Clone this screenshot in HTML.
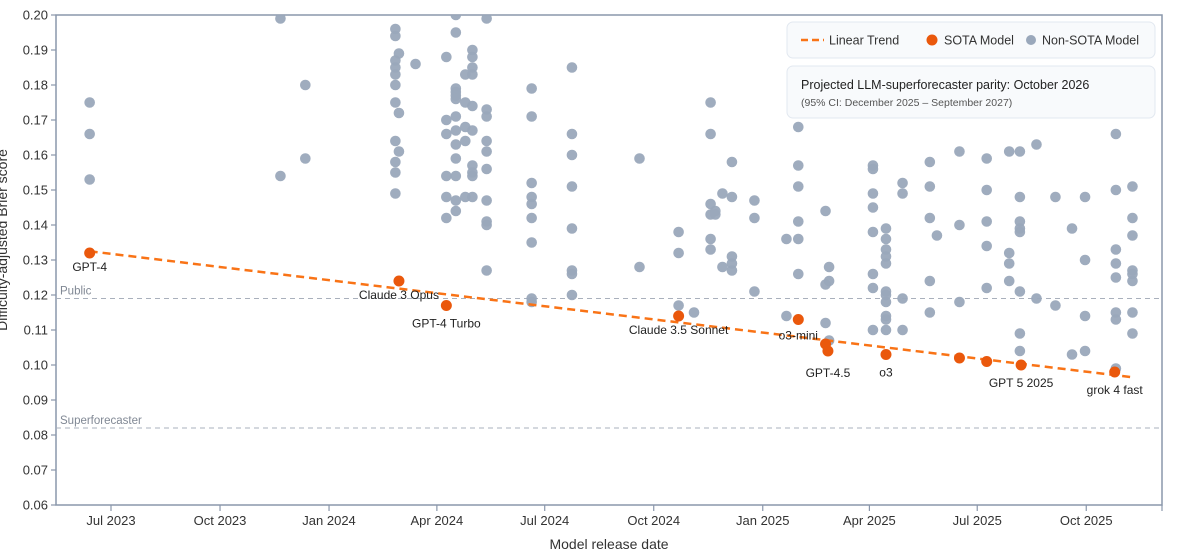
<!DOCTYPE html>
<html><head><meta charset="utf-8"><style>
body{margin:0;background:#fff;font-family:"Liberation Sans",sans-serif;}
svg text{font-family:"Liberation Sans",sans-serif;}
</style></head><body>
<svg id="chart" width="1183" height="553" viewBox="0 0 1183 553" xmlns="http://www.w3.org/2000/svg">
<defs><clipPath id="plotclip"><rect x="56" y="15" width="1106" height="490"/></clipPath></defs>
<rect x="56" y="15" width="1106" height="490" fill="#fff" stroke="#8a97ab" stroke-width="1.5"/>
<g id="grid"></g>
<g id="marks" clip-path="url(#plotclip)"></g>
<g id="axes"></g>
<text x="609" y="549" text-anchor="middle" font-size="14" fill="#333">Model release date</text>
<text transform="translate(7,240) rotate(-90)" text-anchor="middle" font-size="14" fill="#333">Difficulty-adjusted Brier score</text>
<g>
<rect x="787" y="22" width="368" height="36" rx="6" fill="#f8fafc" stroke="#e2e8f0"/>
<line x1="801" y1="40" x2="824" y2="40" stroke="#f97316" stroke-width="2.5" stroke-dasharray="7,4"/>
<text x="829" y="44.5" font-size="12.5" fill="#333">Linear Trend</text>
<circle cx="932" cy="40" r="5.5" fill="#ea580c"/>
<text x="944" y="44.5" font-size="12.5" fill="#333">SOTA Model</text>
<circle cx="1031" cy="40" r="5" fill="#9aa8bb"/>
<text x="1042" y="44.5" font-size="12.5" fill="#333">Non-SOTA Model</text>
<rect x="787" y="66" width="368" height="52" rx="6" fill="#f8fafc" stroke="#e2e8f0"/>
<text x="801" y="89" font-size="12.5" fill="#222">Projected LLM-superforecaster parity: October 2026</text>
<text x="801" y="106" font-size="10.5" fill="#555">(95% CI: December 2025 – September 2027)</text>
</g>
</svg>
<script>
// release dates as days since 2023-07-01
const tickLabels=["Jul 2023","Oct 2023","Jan 2024","Apr 2024","Jul 2024","Oct 2024","Jan 2025","Apr 2025","Jul 2025","Oct 2025"];
const tickDays=[0,92,184,275,366,458,550,640,731,823];
const yTicks=[0.06,0.07,0.08,0.09,0.10,0.11,0.12,0.13,0.14,0.15,0.16,0.17,0.18,0.19,0.20];
const sotaNames=["GPT-4","Claude 3 Opus","GPT-4 Turbo","Claude 3.5 Sonnet","o3-mini","","GPT-4.5","o3","","","GPT 5 2025","grok 4 fast"];
const sotaDays=[-18,243,283,479,580,603,605,654,716,739,768,847];
const sotaScores=[0.132,0.124,0.117,0.114,0.113,0.106,0.104,0.103,0.102,0.101,0.100,0.098];
const otherDays=[-18,-18,-18,143,143,164,164,
240,240,240,240,240,240,240,240,240,240,240,243,243,243,257,
283,283,283,283,283,283,
291,291,291,291,291,291,291,291,291,291,291,291,291,
299,299,299,299,299,
305,305,305,305,305,305,305,305,305,305,
317,317,317,317,317,317,317,317,317,317,
355,355,355,355,355,355,355,355,355,
389,389,389,389,389,389,389,389,
446,446,479,479,479,492,
506,506,506,506,506,506,510,510,516,516,
524,524,524,524,524,543,543,543,570,570,
580,580,580,580,580,580,603,603,603,606,606,606,
643,643,643,643,643,643,643,643,
654,654,654,654,654,654,654,654,654,654,654,
668,668,668,668,691,691,691,691,691,697,
716,716,716,739,739,739,739,739,
758,758,758,758,767,767,767,767,767,767,767,767,
781,781,797,797,811,811,822,822,822,822,
848,848,848,848,848,848,848,848,862,862,862,862,862,862,862,862];
const otherScores=[0.175,0.166,0.153,0.199,0.154,0.180,0.159,
0.196,0.194,0.187,0.185,0.183,0.180,0.175,0.164,0.158,0.155,0.149,0.189,0.172,0.161,0.186,
0.188,0.170,0.166,0.154,0.148,0.142,
0.200,0.195,0.179,0.178,0.177,0.176,0.171,0.167,0.163,0.159,0.154,0.147,0.144,
0.183,0.175,0.168,0.164,0.148,
0.190,0.188,0.185,0.183,0.174,0.167,0.157,0.155,0.154,0.148,
0.199,0.173,0.171,0.164,0.161,0.156,0.147,0.141,0.140,0.127,
0.179,0.171,0.152,0.148,0.146,0.142,0.135,0.119,0.118,
0.185,0.166,0.160,0.151,0.139,0.127,0.126,0.120,
0.159,0.128,0.138,0.132,0.117,0.115,
0.175,0.166,0.146,0.143,0.136,0.133,0.144,0.143,0.149,0.128,
0.158,0.148,0.131,0.129,0.127,0.147,0.142,0.121,0.136,0.114,
0.168,0.157,0.151,0.141,0.136,0.126,0.144,0.123,0.112,0.128,0.124,0.107,
0.157,0.156,0.149,0.145,0.138,0.126,0.122,0.110,
0.139,0.136,0.133,0.131,0.129,0.121,0.120,0.118,0.114,0.113,0.110,
0.152,0.149,0.119,0.110,0.158,0.151,0.142,0.124,0.115,0.137,
0.161,0.140,0.118,0.159,0.150,0.141,0.134,0.122,
0.161,0.132,0.129,0.124,0.161,0.148,0.141,0.139,0.138,0.121,0.109,0.104,
0.163,0.119,0.148,0.117,0.139,0.103,0.148,0.130,0.114,0.104,
0.166,0.150,0.133,0.129,0.125,0.115,0.113,0.099,0.151,0.142,0.137,0.127,0.126,0.124,0.115,0.109];
const trendStart=[-18,0.1325];
const trendEnd=[862,0.0965];
const refNames=["Public","Superforecaster"];
const refValues=[0.119,0.082];

const NS="http://www.w3.org/2000/svg";
const X0=111,PXD=1.185;
function xs(d){return X0+d*PXD;}
function ys(v){return 505-(v-0.06)/0.14*490;}
function mk(tag,attrs,parent){const e=document.createElementNS(NS,tag);for(const k in attrs)e.setAttribute(k,attrs[k]);parent.appendChild(e);return e;}
const grid=document.getElementById('grid'),marks=document.getElementById('marks'),axes=document.getElementById('axes');

yTicks.forEach(v=>{
  const y=ys(v);
  const t=mk('line',{x1:51,x2:56,y1:y,y2:y,stroke:'#8a97ab','stroke-width':1.2},axes);
  
  
  const l=mk('text',{x:48,y:y+4.5,'text-anchor':'end','font-size':13,fill:'#333'},axes);
  l.textContent=v.toFixed(2);
  
  
});
tickDays.forEach((d,i)=>{
  const x=xs(d);
  const t=mk('line',{x1:x,x2:x,y1:505,y2:511,stroke:'#8a97ab','stroke-width':1.2},axes);
  
  
  const l=mk('text',{x:x,y:525,'text-anchor':'middle','font-size':13,fill:'#333'},axes);
  l.textContent=tickLabels[i];
  
  
});
const rr=mk('line',{x1:1162,x2:1162,y1:505,y2:511,stroke:'#8a97ab','stroke-width':1.2},axes);



refValues.forEach((v,i)=>{
  const y=ys(v);
  const l=mk('line',{x1:56,x2:1162,y1:y,y2:y,stroke:'#a9b0bc','stroke-width':1,'stroke-dasharray':'5,4'},grid);
  
  
  const t=mk('text',{x:60,y:y-4,'font-size':11.5,fill:'#808894'},grid);
  t.textContent=refNames[i];
  
  
});

otherDays.forEach((d,i)=>{
  const c=mk('circle',{cx:xs(d),cy:ys(otherScores[i]),r:5.3,fill:'#9aa8bb','fill-opacity':0.95},marks);
  
  
});
const tl=mk('line',{x1:xs(trendStart[0]),y1:ys(trendStart[1]),x2:xs(trendEnd[0]),y2:ys(trendEnd[1]),stroke:'#f97316','stroke-width':2.5,'stroke-dasharray':'8,5'},marks);


const labelOff=[18,18,22,18,20,0,26,22,0,0,22,22];
sotaDays.forEach((d,i)=>{
  const x=xs(d),y=ys(sotaScores[i]);
  const c=mk('circle',{cx:x,cy:y,r:5.5,fill:'#ea580c'},marks);
  
  
  if(sotaNames[i]){
    const t=mk('text',{x:x,y:y+labelOff[i],'text-anchor':'middle','font-size':12,fill:'#222'},axes);
    t.textContent=sotaNames[i];
    
    
  }
});
</script>
</body></html>
